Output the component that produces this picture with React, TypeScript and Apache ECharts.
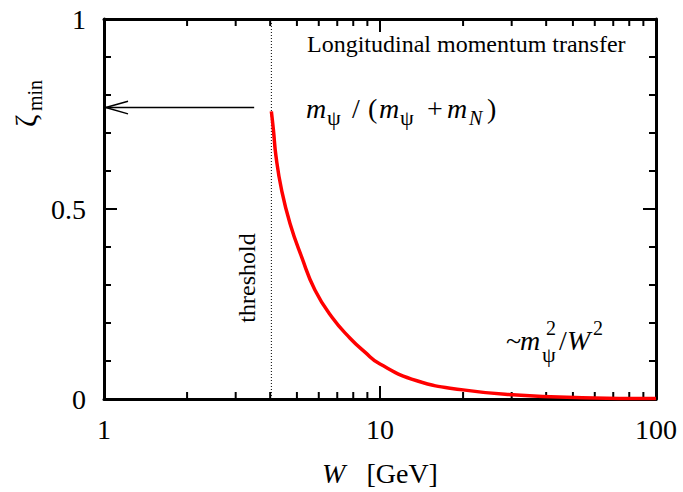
import React, { useEffect, useRef } from 'react';
import * as echarts from 'echarts';

// ---- data ----
const W_GEV = [4.04, 4.11, 4.2, 4.4, 4.72, 5.2, 5.81, 6.7, 7.79, 8.8, 10, 13.6, 20, 31.3, 54, 100];
const ZETA_MIN = [0.757, 0.708, 0.638, 0.55, 0.462, 0.374, 0.287, 0.215, 0.16, 0.124, 0.092, 0.048, 0.024, 0.0105, 0.0035, 0.001];
const THRESHOLD_W = 4.04;
const ARROW_LEVEL = 0.767;
const ARROW_START_W = 3.5;
const ARROW_TIP_W = 1.015;
const ARROW_HEAD_W = 1.222;
const ARROW_HEAD_DZ = 0.0166;
const X_MAJOR_TICKS = [1, 10, 100];
const X_MINOR_TICKS = [2, 3, 4, 5, 6, 7, 8, 9, 20, 30, 40, 50, 60, 70, 80, 90];
const X_TICK_LABELS = ['1', '10', '100'];
const Y_MAJOR_TICKS = [0, 0.5, 1];
const Y_MINOR_TICKS = [0.1, 0.2, 0.3, 0.4, 0.6, 0.7, 0.8, 0.9];
const Y_TICK_LABELS = ['0', '0.5', '1'];

const FONT = 'Liberation Serif';
const MAJOR_LEN = 13;
const MINOR_LEN = 7;
const PLOT_H = 380;
const DECADE_W = 276;

function txt(x: number, baseline: number, s: string, size: number, italic = false) {
  return {
    type: 'text',
    x,
    y: baseline - 0.34 * size,
    silent: true,
    z: 10,
    style: {
      text: s,
      fill: '#000',
      fontSize: size,
      fontFamily: FONT,
      fontStyle: italic ? 'italic' : 'normal',
      align: 'left',
      verticalAlign: 'middle',
    },
  };
}

// one small two-point line series per tick, same mechanism as the arrow
function tickSeries(p1: number[], p2: number[]) {
  return {
    type: 'line', silent: true, symbol: 'none',
    data: [p1, p2],
    lineStyle: { color: '#000', width: 2 },
    z: 2,
  };
}

function buildTicks() {
  const out: any[] = [];
  const f = (len: number) => Math.pow(10, len / DECADE_W);
  const addX = (vals: number[], len: number) =>
    vals.forEach((v) => {
      const dy = len / PLOT_H;
      out.push(tickSeries([v, 0], [v, dy]));
      out.push(tickSeries([v, 1], [v, 1 - dy]));
    });
  const addY = (vals: number[], len: number) =>
    vals.forEach((v) => {
      out.push(tickSeries([1, v], [f(len), v]));
      out.push(tickSeries([100, v], [100 / f(len), v]));
    });
  addX(X_MAJOR_TICKS, MAJOR_LEN);
  addX(X_MINOR_TICKS, MINOR_LEN);
  addY(Y_MAJOR_TICKS, MAJOR_LEN);
  addY(Y_MINOR_TICKS, MINOR_LEN);
  return out;
}

export default function App() {
  const ref = useRef<HTMLDivElement>(null);
  useEffect(() => {
    if (!ref.current) return;
    const chart = echarts.init(ref.current, undefined, { renderer: 'svg' });
    const axisLine = { show: true, onZero: false, lineStyle: { color: '#000', width: 3 } };
    const labelFont = { color: '#000', fontSize: 28, fontFamily: FONT };
    const curve = W_GEV.map((w, i) => [w, ZETA_MIN[i]]);

    const annotations: any[] = [
      txt(307, 52, 'Longitudinal momentum transfer', 24),
      // m_psi / (m_psi + m_N)
      txt(306, 118, 'm', 28, true),
      txt(327, 125, 'ψ', 22),
      txt(352, 118, '/', 28),
      txt(368, 118, '(', 28),
      txt(379, 118, 'm', 28, true),
      txt(400, 125, 'ψ', 22),
      txt(427, 118, '+', 28),
      txt(447, 118, 'm', 28, true),
      txt(469, 125, 'N', 20, true),
      txt(487, 118, ')', 28),
      // ~m_psi^2 / W^2
      txt(506, 350, '~', 28),
      txt(520, 350, 'm', 28, true),
      txt(546, 335, '2', 20),
      txt(542, 362, 'ψ', 22),
      txt(559, 350, '/', 28),
      txt(567, 350, 'W', 28, true),
      txt(593, 335, '2', 20),
      {
        type: 'text', x: 247, y: 278, rotation: Math.PI / 2, silent: true, z: 10,
        style: { text: 'threshold', fill: '#000', fontSize: 24, fontFamily: FONT, align: 'center', verticalAlign: 'middle' },
      },
      {
        type: 'group', x: 36, y: 127, rotation: Math.PI / 2, silent: true,
        children: [txt(0, 0, 'ζ', 30), txt(16, 6, 'min', 20)],
      },
    ];

    const option: any = {
      animation: false,
      grid: { left: 104, right: 27, top: 19, bottom: 93, containLabel: false },
      xAxis: [
        {
          type: 'log', logBase: 10, min: 1, max: 100, position: 'bottom',
          axisLine,
          axisTick: { show: false },
          axisLabel: {
            show: true, margin: 16, ...labelFont,
            formatter: (v: number) => {
              const i = X_MAJOR_TICKS.findIndex((t) => Math.abs(t - v) < 1e-6 * t);
              return i >= 0 ? X_TICK_LABELS[i] : '';
            },
          },
          splitLine: { show: false },
          name: '{i|W}{n|   [GeV]}',
          nameLocation: 'middle',
          nameGap: 60,
          nameTextStyle: {
            rich: {
              i: { fontSize: 28, fontFamily: FONT, fontStyle: 'italic', color: '#000' },
              n: { fontSize: 28, fontFamily: FONT, color: '#000' },
            },
          },
        },
        {
          type: 'log', logBase: 10, min: 1, max: 100, position: 'top',
          axisLine, axisTick: { show: false }, axisLabel: { show: false }, splitLine: { show: false },
        },
      ],
      yAxis: [
        {
          type: 'value', min: 0, max: 1, interval: 0.5, position: 'left',
          axisLine, axisTick: { show: false },
          axisLabel: {
            show: true, margin: 18, ...labelFont,
            formatter: (v: number) => {
              const i = Y_MAJOR_TICKS.findIndex((t) => Math.abs(t - v) < 1e-9);
              return i >= 0 ? Y_TICK_LABELS[i] : '';
            },
          },
          splitLine: { show: false },
        },
        {
          type: 'value', min: 0, max: 1, interval: 0.5, position: 'right',
          axisLine, axisTick: { show: false }, axisLabel: { show: false }, splitLine: { show: false },
        },
      ],
      series: [
        {
          type: 'line', name: 'threshold', silent: true, symbol: 'none',
          data: [[THRESHOLD_W, 0], [THRESHOLD_W, 1]],
          lineStyle: { color: '#000', width: 1, type: [1, 2] },
          z: 2,
        },
        {
          type: 'line', name: 'arrow', silent: true, symbol: 'none',
          data: [[ARROW_TIP_W, ARROW_LEVEL], [ARROW_START_W, ARROW_LEVEL]],
          lineStyle: { color: '#000', width: 1.5 },
          z: 2,
        },
        {
          type: 'line', name: 'arrowhead', silent: true, symbol: 'none',
          data: [
            [ARROW_HEAD_W, ARROW_LEVEL + ARROW_HEAD_DZ],
            [ARROW_TIP_W, ARROW_LEVEL],
            [ARROW_HEAD_W, ARROW_LEVEL - ARROW_HEAD_DZ],
          ],
          lineStyle: { color: '#000', width: 1.5 },
          z: 2,
        },
        {
          type: 'line', name: 'zeta_min', silent: true, symbol: 'none',
          data: curve,
          smooth: 0.5,
          lineStyle: { color: '#ff0000', width: 3.5 },
          z: 3,
        },
        ...buildTicks(),
      ],
      graphic: annotations,
    };
    chart.setOption(option);
    return () => chart.dispose();
  }, []);
  return <div ref={ref} style={{ position: 'absolute', left: 0, top: 0, width: 683, height: 492, background: '#fff' }} />;
}
